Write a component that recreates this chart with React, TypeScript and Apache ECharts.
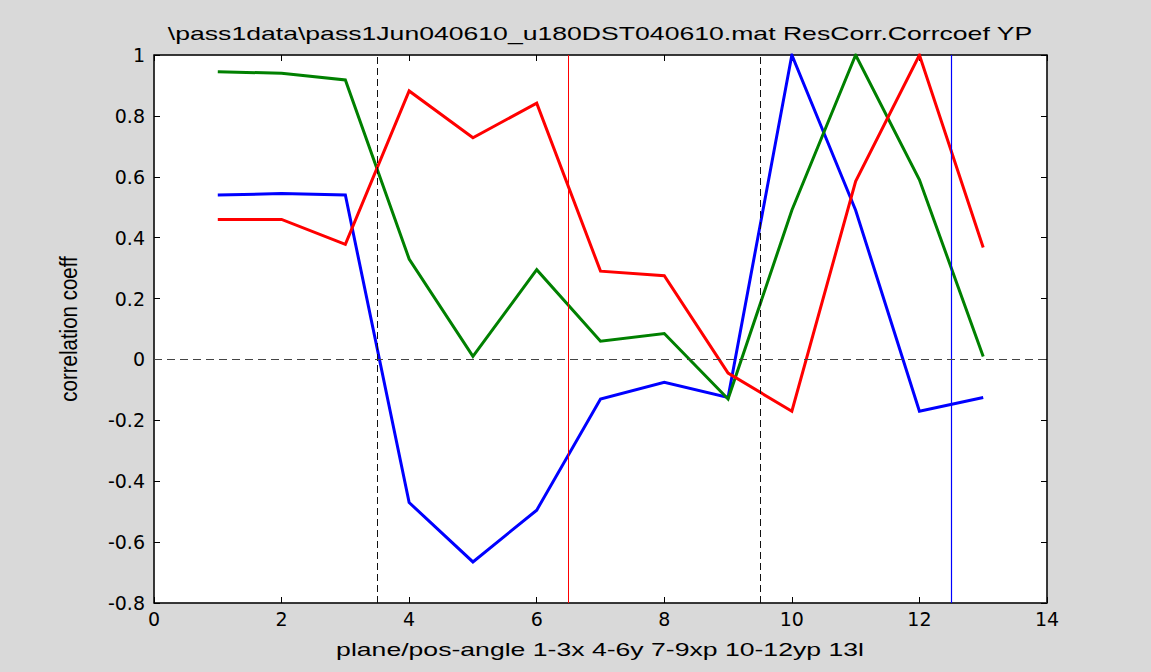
import React, { useEffect, useRef } from "react";
import * as echarts from "echarts";

const xValues = [1, 2, 3, 4, 5, 6, 7, 8, 9, 10, 11, 12, 13];
const blueValues = [0.54, 0.545, 0.54, -0.47, -0.665, -0.495, -0.13, -0.075, -0.125, 1.0, 0.49, -0.17, -0.125];
const greenValues = [0.945, 0.94, 0.918, 0.33, 0.01, 0.295, 0.06, 0.085, -0.13, 0.49, 1.0, 0.59, 0.01];
const redValues = [0.46, 0.46, 0.378, 0.882, 0.728, 0.842, 0.29, 0.275, -0.045, -0.17, 0.585, 1.0, 0.368];
const dashedDividers = [3.5, 9.5];
const redDivider = 6.5;
const blueDivider = 12.5;
const zeroLine = 0;

const titleText = "\\pass1data\\pass1Jun040610_u180DST040610.mat ResCorr.Corrcoef YP";
const xLabelText = "plane/pos-angle 1-3x 4-6y 7-9xp 10-12yp 13l";
const yLabelText = "correlation coeff";

const pairs = (ys: number[]) => xValues.map((x, i) => [x, ys[i]]);

export default function App() {
  const ref = useRef<HTMLDivElement>(null);
  useEffect(() => {
    if (!ref.current) return;
    const chart = echarts.init(ref.current, undefined, { renderer: "svg" });
    const tickFont = { fontFamily: "DejaVu Sans", fontSize: 19, color: "#000" };
    const xBase = {
      type: "value" as const,
      min: 0,
      max: 14,
      interval: 2,
      splitLine: { show: false },
      axisLine: { show: true, onZero: false, lineStyle: { color: "#222", width: 1.5 } },
      axisTick: { show: true, inside: true, length: 6, lineStyle: { color: "#000" } },
    };
    const yBase = {
      type: "value" as const,
      min: -0.8,
      max: 1,
      interval: 0.2,
      splitLine: { show: false },
      axisLine: { show: true, onZero: false, lineStyle: { color: "#222", width: 1.5 } },
      axisTick: { show: true, inside: true, length: 6, lineStyle: { color: "#000" } },
    };
    const lineSeries = (name: string, ys: number[], color: string) => ({
      name,
      type: "line" as const,
      data: pairs(ys),
      showSymbol: false,
      symbol: "none",
      lineStyle: { color, width: 3, join: "miter" },
      itemStyle: { color },
      z: 3,
    });
    chart.setOption({
      animation: false,
      backgroundColor: "#d9d9d9",
      grid: {
        left: 154,
        right: 104,
        top: 55,
        bottom: 69,
        show: true,
        backgroundColor: "#ffffff",
        borderColor: "#000",
        borderWidth: 1,
      },
      xAxis: [
        { ...xBase, position: "bottom", axisLabel: { ...tickFont, margin: 6 } },
        { ...xBase, position: "top", axisLabel: { show: false } },
      ],
      yAxis: [
        {
          ...yBase,
          position: "left",
          axisLabel: {
            ...tickFont,
            margin: 9,
            formatter: (v: number) => String(Math.round(v * 10) / 10),
          },
        },
        { ...yBase, position: "right", axisLabel: { show: false } },
      ],
      series: [
        {
          name: "dividers",
          type: "line",
          data: [],
          silent: true,
          markLine: {
            silent: true,
            symbol: "none",
            label: { show: false },
            animation: false,
            data: [
              ...dashedDividers.map((x) => ({
                xAxis: x,
                lineStyle: { color: "#111", width: 1, type: [7, 4] },
              })),
              { xAxis: redDivider, lineStyle: { color: "#ff0000", width: 1, type: "solid" } },
              { xAxis: blueDivider, lineStyle: { color: "#0000ff", width: 1.2, type: "solid" } },
              { yAxis: zeroLine, lineStyle: { color: "#444", width: 1, type: [8, 5] } },
            ],
          },
          z: 2,
        },
        lineSeries("blue", blueValues, "#0000ff"),
        lineSeries("green", greenValues, "#008000"),
        lineSeries("red", redValues, "#ff0000"),
      ],
      graphic: [
        {
          type: "text",
          x: 600,
          y: 33,
          scaleX: 1.4,
          style: {
            text: titleText,
            fontFamily: "Liberation Sans",
            fontSize: 19,
            fill: "#000",
            align: "center",
            verticalAlign: "middle",
          },
        },
        {
          type: "text",
          x: 600,
          y: 649,
          scaleX: 1.4,
          style: {
            text: xLabelText,
            fontFamily: "Liberation Sans",
            fontSize: 19,
            fill: "#000",
            align: "center",
            verticalAlign: "middle",
          },
        },
        {
          type: "text",
          x: 69,
          y: 329,
          rotation: Math.PI / 2,
          scaleY: 1.2,
          style: {
            text: yLabelText,
            fontFamily: "Liberation Sans",
            fontSize: 20.5,
            fill: "#000",
            align: "center",
            verticalAlign: "middle",
          },
        },
      ],
    });
    return () => chart.dispose();
  }, []);
  return (
    <div
      ref={ref}
      style={{ position: "fixed", left: 0, top: 0, width: 1151, height: 672 }}
    />
  );
}
